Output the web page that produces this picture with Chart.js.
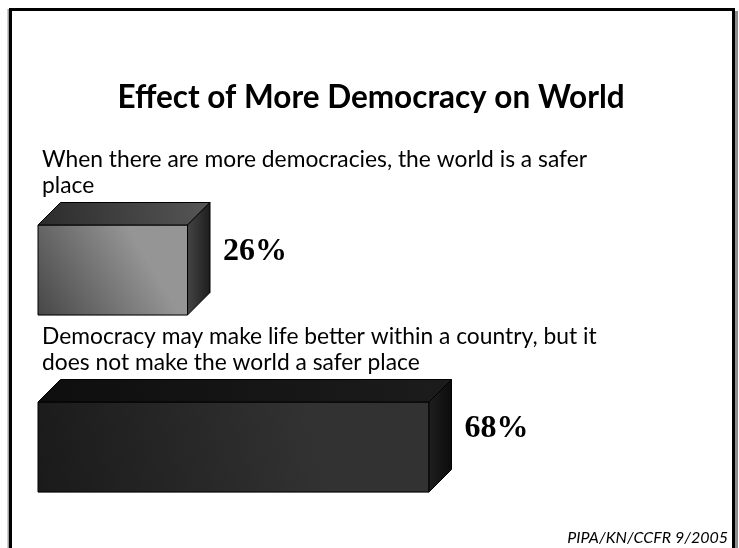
<!DOCTYPE html>
<html>
<head>
<meta charset="utf-8">
<script src="https://cdn.jsdelivr.net/npm/chart.js@4.4.1/dist/chart.umd.min.js"></script>
<style>
  html, body { margin: 0; padding: 0; background: #ffffff; }
  #wrap { width: 739px; height: 548px; }
</style>
</head>
<body>
<div id="wrap"><canvas id="c" width="739" height="548"></canvas></div>
<script>
// Survey answers and their shares (%)
const chartTitle = 'Effect of More Democracy on World';
const answers = [
  ['When there are more democracies, the world is a safer', 'place'],
  ['Democracy may make life better within a country, but it', 'does not make the world a safer place']
];
const shares = [26, 68];
const sourceNote = 'PIPA/KN/CCFR 9/2005';

// Face shading for each box: front gradient (dark -> light), top, side
const faceStyles = [
  { frontDark: '#474747', frontLight: '#959595', topA: '#2c2c2c', topB: '#565656', sideA: '#444444', sideB: '#1e1e1e' },
  { frontDark: '#1a1a1a', frontLight: '#323232', topA: '#0e0e0e', topB: '#1c1c1c', sideA: '#1e1e1e', sideB: '#0c0c0c' }
];
const DEPTH = 22.5;

// Slide frame with a soft shadow on the right
const framePlugin = {
  id: 'frame',
  beforeDraw(chart) {
    const ctx = chart.ctx;
    ctx.save();
    ctx.fillStyle = '#ffffff';
    ctx.fillRect(0, 0, chart.width, chart.height);
    ctx.fillStyle = '#8c8c8c';
    ctx.fillRect(735, 11, 3, chart.height - 11);
    ctx.fillStyle = '#a0a0a0';
    ctx.fillRect(7.5, 9, 1.5, chart.height - 9);
    ctx.strokeStyle = '#000000';
    ctx.lineWidth = 3;
    ctx.beginPath();
    ctx.moveTo(10.5, chart.height + 2);
    ctx.lineTo(10.5, 9.5);
    ctx.lineTo(733.5, 9.5);
    ctx.lineTo(733.5, chart.height + 2);
    ctx.stroke();
    ctx.restore();
  }
};

// Turns each horizontal bar into a shaded box (front, top and right faces)
const boxPlugin = {
  id: 'box3d',
  afterDatasetsDraw(chart) {
    const ctx = chart.ctx;
    const meta = chart.getDatasetMeta(0);
    meta.data.forEach((bar, i) => {
      const p = bar.getProps(['x', 'y', 'base', 'height'], true);
      const st = faceStyles[i % faceStyles.length];
      const left = Math.min(p.base, p.x), right = Math.max(p.base, p.x);
      const top = p.y - p.height / 2, bottom = p.y + p.height / 2;
      const d = DEPTH;
      ctx.save();
      ctx.lineWidth = 1;
      ctx.strokeStyle = '#000000';
      ctx.lineJoin = 'round';

      // front face
      const gf = ctx.createLinearGradient(left, bottom, right, top);
      gf.addColorStop(0, st.frontDark);
      gf.addColorStop(0.7, st.frontLight);
      gf.addColorStop(1, st.frontLight);
      ctx.fillStyle = gf;
      ctx.beginPath();
      ctx.rect(left, top, right - left, bottom - top);
      ctx.fill();
      ctx.stroke();

      // top face
      const gt = ctx.createLinearGradient(left, top, right + d, top - d);
      gt.addColorStop(0, st.topA);
      gt.addColorStop(1, st.topB);
      ctx.fillStyle = gt;
      ctx.beginPath();
      ctx.moveTo(left, top);
      ctx.lineTo(left + d, top - d);
      ctx.lineTo(right + d, top - d);
      ctx.lineTo(right, top);
      ctx.closePath();
      ctx.fill();
      ctx.stroke();

      // right face
      const gs = ctx.createLinearGradient(right, 0, right + d, 0);
      gs.addColorStop(0, st.sideA);
      gs.addColorStop(1, st.sideB);
      ctx.fillStyle = gs;
      ctx.beginPath();
      ctx.moveTo(right, top);
      ctx.lineTo(right + d, top - d);
      ctx.lineTo(right + d, bottom - d);
      ctx.lineTo(right, bottom);
      ctx.closePath();
      ctx.fill();
      ctx.stroke();

      // value label beside the box
      ctx.fillStyle = '#000000';
      ctx.font = 'bold 32px "Liberation Serif", "DejaVu Serif", serif';
      ctx.textAlign = 'left';
      ctx.textBaseline = 'middle';
      ctx.fillText(shares[i] + '%', right + d + 13, p.y - 18);

      // answer text above the box
      ctx.font = '22.8px Lato, "Open Sans", sans-serif';
      ctx.textBaseline = 'alphabetic';
      const lines = answers[i];
      const lastBase = top - d - 10;
      lines.forEach((ln, k) => {
        ctx.fillText(ln, 42, lastBase - (lines.length - 1 - k) * 26);
      });
      ctx.restore();
    });
  },
  afterDraw(chart) {
    const ctx = chart.ctx;
    ctx.save();
    ctx.fillStyle = '#000000';
    ctx.textAlign = 'center';
    ctx.textBaseline = 'alphabetic';
    ctx.font = 'bold 31.5px Lato, "Open Sans", sans-serif';
    ctx.fillText(chartTitle, 371, 108);
    ctx.textAlign = 'right';
    ctx.font = 'italic 16px Lato, "Open Sans", sans-serif';
    ctx.fillText(sourceNote, 728, 543);
    ctx.restore();
  }
};

new Chart(document.getElementById('c'), {
  type: 'bar',
  data: {
    labels: answers.map(a => a.join(' ')),
    datasets: [{
      data: shares,
      backgroundColor: faceStyles.map(s => s.frontLight),
      borderWidth: 0,
      barThickness: 90
    }]
  },
  options: {
    indexAxis: 'y',
    responsive: false,
    animation: false,
    events: [],
    layout: { padding: { left: 38, right: 126, top: 181.5, bottom: 12.5 } },
    scales: {
      x: { display: false, min: 0, max: 100 },
      y: { display: false }
    },
    plugins: {
      legend: { display: false },
      title: { display: false },
      tooltip: { enabled: false }
    }
  },
  plugins: [framePlugin, boxPlugin]
});
</script>
</body>
</html>
